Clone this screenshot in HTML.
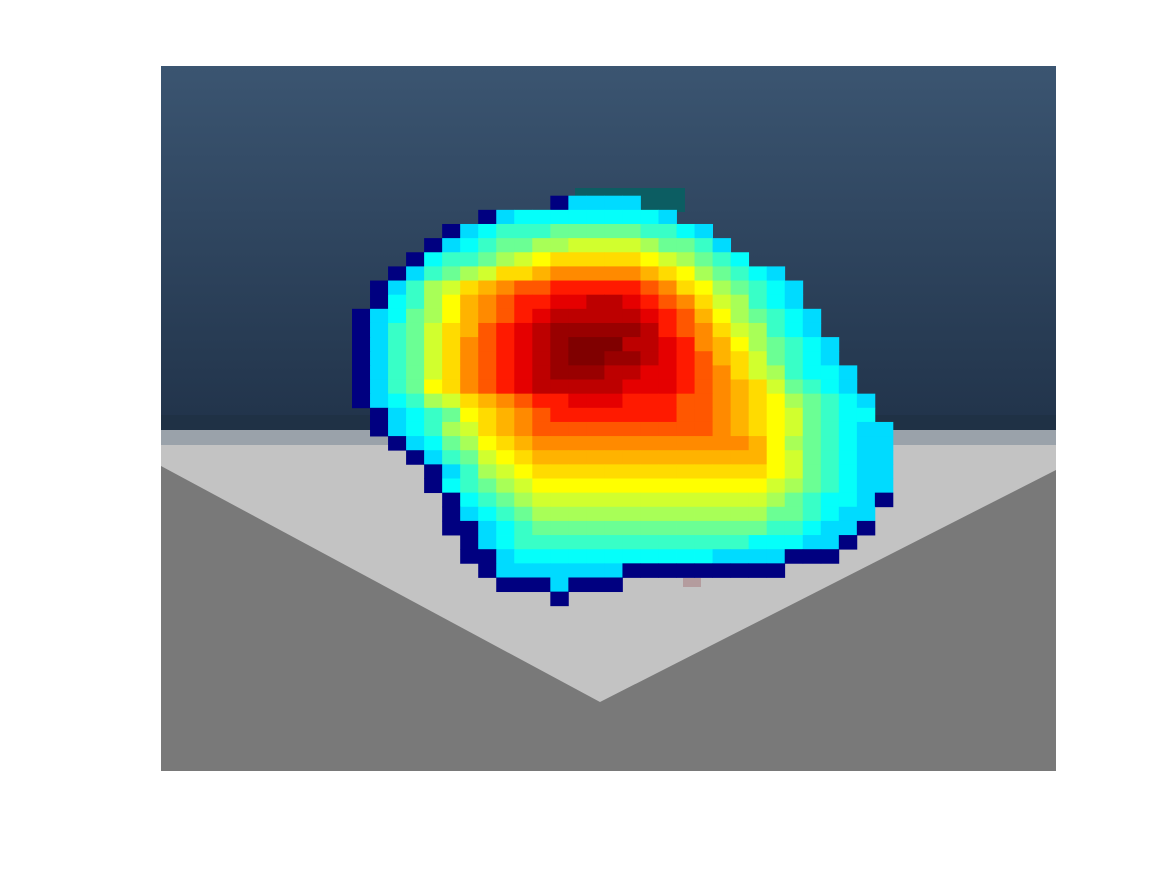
<!DOCTYPE html>
<html><head><meta charset="utf-8"><style>
html,body{margin:0;padding:0;background:#fff;width:1167px;height:875px;overflow:hidden}
svg{display:block}
</style></head><body>
<svg id="chart" width="1167" height="875" viewBox="0 0 1167 875" xmlns="http://www.w3.org/2000/svg">
<defs>
<linearGradient id="sky" x1="0" y1="0" x2="0" y2="1">
<stop offset="0" stop-color="#3b5571"/>
<stop offset="1" stop-color="#21334a"/>
</linearGradient>
</defs>
<g>
<rect x="161" y="66" width="895" height="705" fill="#797979"/>
<rect x="161" y="66" width="895" height="364" fill="url(#sky)"/>
<rect x="161" y="415" width="895" height="15" fill="#1f3145"/>
<rect x="161" y="430" width="895" height="15" fill="#9aa2aa"/>
<polygon points="161,445 1056,445 1056,470 600,702 161,466" fill="#c3c3c3"/>
<rect x="575" y="188" width="110" height="24" fill="#0c5d62"/>
<rect x="683" y="578" width="18" height="9" fill="#b49c9e"/>
</g>
<g id="cells"></g>
</svg>
<script>
// heatmap grid data: each char is a jet level ('.' = no data, 'N' = lowest)
const rows = [
"...........Naaaa..............",
".......Nabbbbbbbba............",
".....Nabcccdddddccba..........",
"....Nabcddeeffffeddca.........",
"...Nbccdefghhhhhgfedcb........",
"..Nacdefhhijjjjjihgedcba......",
".Nacefhijkklllllkjhgedcba.....",
".Nbcegijkllmmnnmlkjhfecba.....",
"Nabdegijklmnnnnnmlkigedcba....",
"Nacdfhiklmnooooonlkjhfecba....",
"Nacdfhjklmnopppnnmljigedcba...",
"Nacdfhjklmnoppoonmlkihfdcba...",
"Nacdfhjklmnooonnmmlkjhfecbba..",
"Nacdghjklmnnnnnmmmlkjihfdcba..",
"Nabcefhijkllmmmlllkkjihgedcba.",
".Nabcdghijklllllllkkjihgfdcbb.",
".Nabcefhijkkkkkkkkkkjihgfdcbaa",
"..Nabdeghijjjjjjjjjjjjigedcbaa",
"...Nacdfghiiiiiiiiiiiiigfdcbaa",
"....Nacefghhhhhhhhhhhhhgfdcbaa",
"....Nbcdefgggggggggggggfedcbaa",
".....NbcdefffffffffffffedcbbaN",
".....Nabcdeeeeeeeeeeeeeddcbaa.",
".....NNabcdddddddddddddccbaaN.",
"......NabcccccccccccccbbbaaN..",
"......NNabbbbbbbbbbbaaaaNNN...",
".......NaaaaaaaNNNNNNNNN......",
"........NNNaNNN...............",
"...........N.................."
];
const levelKeys = "Nabcdefghijklmnop";
const levelVals = [0.0,0.34,0.38,0.43,0.48,0.54,0.58,0.625,0.66,0.70,0.74,0.79,0.85,0.90,0.94,0.975,1.0];
const nCols = 30, nRows = 29;

// axis functions
const x0 = 352, cw = 18.03, y0 = 195.7, ch = 14.14;
function xScale(c){ return x0 + c*cw; }
function yScale(r){ return y0 + r*ch; }
function jet(t){
  function cl(v){ return Math.max(0, Math.min(1, v)); }
  const r = cl(1.5 - Math.abs(4*t - 3));
  const g = cl(1.5 - Math.abs(4*t - 2));
  const b = cl(1.5 - Math.abs(4*t - 1));
  return "rgb(" + Math.round(r*255) + "," + Math.round(g*255) + "," + Math.round(b*255) + ")";
}
const g = document.getElementById("cells");
for (let r = 0; r < nRows; r++) {
  const row = (rows[r] || "").padEnd(nCols, ".");
  for (let c = 0; c < nCols; c++) {
    const k = row[c];
    const idx = levelKeys.indexOf(k);
    if (idx < 0) continue;
    const rect = document.createElementNS("http://www.w3.org/2000/svg", "rect");
    
    
    rect.setAttribute("x", xScale(c).toFixed(2));
    rect.setAttribute("y", yScale(r).toFixed(2));
    rect.setAttribute("width", (cw + 0.4).toFixed(2));
    rect.setAttribute("height", (ch + 0.4).toFixed(2));
    rect.setAttribute("fill", jet(levelVals[idx]));
    g.appendChild(rect);
  }
}
</script>
</body></html>
